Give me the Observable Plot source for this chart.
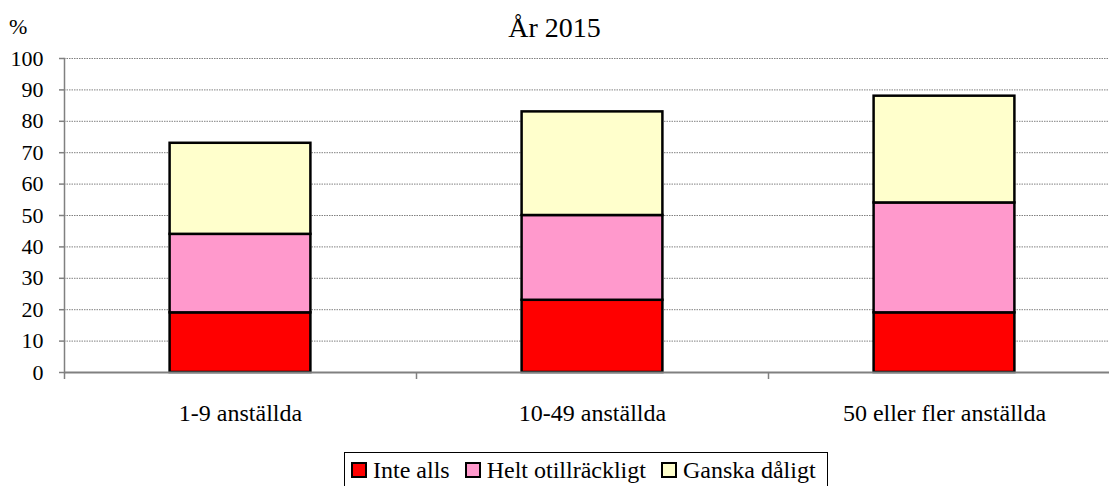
<!DOCTYPE html>
<html>
<head>
<meta charset="utf-8">
<script src="https://cdn.jsdelivr.net/npm/d3@7"></script>
<script src="https://cdn.jsdelivr.net/npm/@observablehq/plot@0.6"></script>
<style>
  html, body { margin: 0; padding: 0; background: #fff; overflow: hidden; }
  body { width: 1109px; height: 486px; position: relative; font-family: "Liberation Serif", "Times New Roman", serif; color: #000; }
  #header { position: relative; height: 45px; }
  #pct { position: absolute; left: 9px; top: 14px; font-size: 22px; }
  #sub { position: absolute; left: 0; width: 1109px; top: 12px; text-align: center; font-size: 28px; }
  #chart { position: absolute; left: 0; top: 45px; }
  #legend { position: absolute; left: 344px; top: 452px; width: 484px; height: 36px; border: 1px solid #000; box-sizing: border-box; display: flex; align-items: center; padding-left: 6px; font-size: 24px; white-space: nowrap; font-family: "Liberation Serif", serif; }
  .item { display: flex; align-items: center; margin-right: 15px; }
  .sw { width: 12px; height: 12px; border: 2px solid #000; margin-right: 6px; }
</style>
</head>
<body>
<div id="header"><div id="pct">%</div><div id="sub">År 2015</div></div>
<div id="chart"></div>
<div id="legend"></div>
<script>
const categories = ["1-9 anställda", "10-49 anställda", "50 eller fler anställda"];
const series = ["Inte alls", "Helt otillräckligt", "Ganska dåligt"];
const inteAlls = [19, 23, 19];
const heltOtillrackligt = [25, 27, 35];
const ganskaDaligt = [29, 33, 34];
const colors = ["#FF0000", "#FF99CC", "#FFFFCC"];
const yTicks = [0, 10, 20, 30, 40, 50, 60, 70, 80, 90, 100];

const valuesBySeries = [inteAlls, heltOtillrackligt, ganskaDaligt];
const data = [];
series.forEach((s, si) => categories.forEach((c, ci) => data.push({category: c, series: s, value: valuesBySeries[si][ci]})));

const W = 1109, ML = 64, MR = -11;
const band = (W - MR - ML) / categories.length;

const chart = Plot.plot({
  width: W,
  height: 395,
  marginLeft: ML,
  marginRight: MR,
  marginTop: 13,
  marginBottom: 68,
  style: {fontFamily: "'Liberation Serif', 'Times New Roman', serif", background: "transparent", overflow: "visible"},
  x: {domain: categories, padding: 0, label: null},
  y: {domain: [0, 100], label: null},
  color: {domain: series, range: colors},
  marks: [
    Plot.gridY(yTicks, {stroke: "#808080", strokeOpacity: 1, strokeWidth: 1, strokeDasharray: "1.5,1"}),
    Plot.barY(data, Plot.stackY({order: series, x: "category", y: "value", fill: "series", stroke: "#000", strokeWidth: 2.5, insetLeft: band * 0.3, insetRight: band * 0.3})),
    Plot.axisY(yTicks, {tickSize: 5, tickPadding: 16, fontSize: 22, stroke: "#808080", strokeWidth: 1.5, tickFormat: d => d, label: null, color: "#000"}),
    Plot.axisX({tickSize: 7, tickFormat: () => "", dx: -band / 2, stroke: "#808080", strokeWidth: 1.5, label: null}),
    Plot.axisX({tickSize: 0, tickPadding: 31, fontSize: 24, label: null}),
    Plot.frame({anchor: "left", stroke: "#808080", strokeWidth: 1.5}),
    Plot.ruleY([0], {stroke: "#808080", strokeWidth: 2})
  ]
});
document.getElementById("chart").appendChild(chart);

const legend = document.getElementById("legend");
series.forEach((s, i) => {
  const it = document.createElement("div");
  it.className = "item";
  const sw = document.createElement("div");
  sw.className = "sw";
  sw.style.background = colors[i];
  const t = document.createElement("span");
  t.textContent = s;
  it.appendChild(sw); it.appendChild(t);
  legend.appendChild(it);
});
</script>
</body>
</html>
